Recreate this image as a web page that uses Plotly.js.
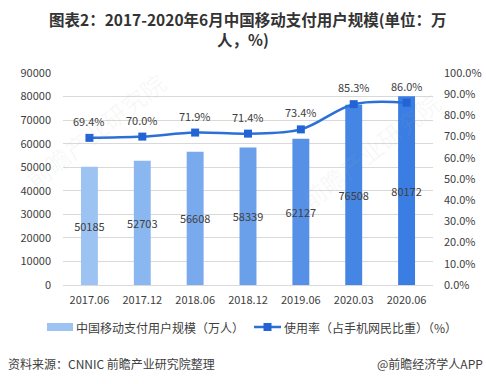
<!DOCTYPE html>
<html>
<head>
<meta charset="utf-8">
<script src="https://cdn.plot.ly/plotly-3.0.1.min.js"></script>
<style>html,body{margin:0;padding:0;background:#fff;}#chart{width:486px;height:384px;}</style>
</head>
<body>
<div id="chart"></div>
<script>
const categories = ["2017.06","2017.12","2018.06","2018.12","2019.06","2020.03","2020.06"];
const users = [50185, 52703, 56608, 58339, 62127, 76508, 80172];
const rates = [0.694, 0.700, 0.719, 0.714, 0.734, 0.853, 0.860];
const rateLabels = ["69.4%","70.0%","71.9%","71.4%","73.4%","85.3%","86.0%"];
const barName = "中国移动支付用户规模（万人）";
const lineName = "使用率（占手机网民比重）（%）";
const titleLine1 = "图表2：2017-2020年6月中国移动支付用户规模(单位：万";
const titleLine2 = "人，%)";
const sourceText = "资料来源：CNNIC 前瞻产业研究院整理";
const brandText = "@前瞻经济学人APP";
const watermarkText = "前瞻产业研究院";

const idx = categories.map((c, i) => i);
const barColors = ["#9dc3f3","#8bb7f0","#79aaed","#6a9fea","#5791e7","#4586e4","#3b7ee3"];
const FONT = '"Noto Sans CJK SC", "Microsoft YaHei", sans-serif';
const TXT = "#404040";
const LINE = "#2d6fd8", MARK = "#2264d4";

// paper coordinate helpers (plot area: x 63..433, y 73..285)
const px = v => (v - 63) / 370;
const py = v => (285 - v) / 212;

const bar = {
  type: "bar", x: idx, y: users, name: barName,
  marker: {color: barColors},
  text: users.map(String), textposition: "inside", insidetextanchor: "middle",
  textangle: 0, textfont: {color: TXT, size: 11, family: FONT},
  cliponaxis: false, hoverinfo: "skip", showlegend: false
};
const line = {
  type: "scatter", mode: "lines+markers", x: idx, y: rates, yaxis: "y2", name: lineName,
  line: {color: LINE, width: 2.5, shape: "spline", smoothing: 1},
  marker: {symbol: "square", size: 8, color: MARK},
  hoverinfo: "skip", showlegend: false
};

const annotations = [];
const wm = (x, y) => ({xref: "paper", yref: "paper", x: px(x), y: py(y), xanchor: "center", yanchor: "middle",
  text: watermarkText, textangle: -38, showarrow: false, font: {color: "rgba(170,170,170,0.09)", size: 24, family: FONT}});
annotations.push(wm(95, 130), wm(370, 150));
rates.forEach((r, i) => annotations.push({
  x: idx[i], y: r, xref: "x", yref: "y2", text: rateLabels[i],
  showarrow: false, yshift: 17, font: {color: TXT, size: 11, family: FONT}
}));
annotations.push({xref: "paper", yref: "paper", x: 0.5, y: py(19), xanchor: "center", yanchor: "middle",
  text: "<b>" + titleLine1 + "</b>", showarrow: false, font: {color: "#333", size: 15.5, family: FONT}});
annotations.push({xref: "paper", yref: "paper", x: px(243), y: py(38.5), xanchor: "center", yanchor: "middle",
  text: "<b>" + titleLine2 + "</b>", showarrow: false, font: {color: "#333", size: 15.5, family: FONT}});
annotations.push({xref: "paper", yref: "paper", x: px(74), y: py(327), xanchor: "left", yanchor: "middle",
  text: barName, showarrow: false, font: {color: TXT, size: 12, family: FONT}});
annotations.push({xref: "paper", yref: "paper", x: px(282), y: py(327), xanchor: "left", yanchor: "middle",
  text: lineName, showarrow: false, font: {color: TXT, size: 12, family: FONT}});
annotations.push({xref: "paper", yref: "paper", x: px(6), y: py(363), xanchor: "left", yanchor: "middle",
  text: sourceText, showarrow: false, font: {color: TXT, size: 12, family: FONT}});
annotations.push({xref: "paper", yref: "paper", x: px(485), y: py(363), xanchor: "right", yanchor: "middle",
  text: brandText, showarrow: false, font: {color: TXT, size: 12, family: FONT}});

const shapes = [
  {type: "rect", xref: "paper", yref: "paper", x0: px(47), x1: px(73), y0: py(331), y1: py(323),
    fillcolor: barColors[0], line: {width: 0}},
  {type: "line", xref: "paper", yref: "paper", x0: px(254), x1: px(281), y0: py(327), y1: py(327),
    line: {color: LINE, width: 2.5}},
  {type: "rect", xref: "paper", yref: "paper", x0: px(263.5), x1: px(271.5), y0: py(331), y1: py(323),
    fillcolor: MARK, line: {width: 0}}
];

const layout = {
  width: 486, height: 384,
  margin: {l: 63, r: 53, t: 73, b: 99},
  paper_bgcolor: "#fff", plot_bgcolor: "#fff",
  font: {family: FONT, color: TXT, size: 11},
  showlegend: false,
  bargap: 0.68,
  xaxis: {type: "linear", range: [-0.5, 6.5], tickvals: idx, ticktext: categories,
    showgrid: false, zeroline: false, showline: false, ticks: "",
    tickfont: {size: 11, color: TXT, family: FONT}, ticklabelstandoff: 7, fixedrange: true},
  yaxis: {range: [0, 90000], dtick: 10000, tick0: 0, tickformat: "d", showgrid: true, gridcolor: "#d9d9d9", gridwidth: 1,
    zeroline: true, zerolinecolor: "#d9d9d9", zerolinewidth: 1, showline: false, ticks: "",
    tickfont: {size: 11, color: TXT, family: FONT}, ticklabelstandoff: 11, fixedrange: true},
  yaxis2: {range: [0, 1], dtick: 0.1, tick0: 0, tickformat: ".1%", overlaying: "y", side: "right",
    showgrid: false, zeroline: false, showline: false, ticks: "",
    tickfont: {size: 11, color: TXT, family: FONT}, ticklabelstandoff: 10, fixedrange: true},
  uniformtext: {mode: "show", minsize: 11},
  annotations: annotations,
  shapes: shapes
};

Plotly.newPlot("chart", [bar, line], layout, {staticPlot: true, displayModeBar: false});
</script>
</body>
</html>
